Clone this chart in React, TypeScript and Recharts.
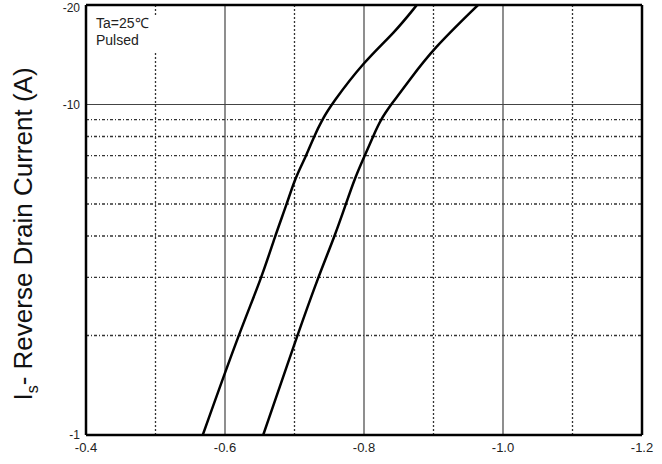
import React from 'react';
import { LineChart, Line, XAxis, YAxis, ReferenceLine } from 'recharts';

// Source-drain diode forward voltage (V) vs reverse drain current (A)
const voltsLeft = [-0.568, -0.619, -0.653, -0.672, -0.689, -0.701, -0.717, -0.728, -0.74, -0.753, -0.8, -0.844, -0.876];
const ampsLeft = [-1, -2, -3, -4, -5, -6, -7, -8, -9, -10, -13.5, -16.5, -20];
const voltsRight = [-0.655, -0.704, -0.734, -0.758, -0.774, -0.787, -0.801, -0.813, -0.824, -0.839, -0.866, -0.899, -0.964];
const ampsRight = [-1, -2, -3, -4, -5, -6, -7, -8, -9, -10, -11.9, -14.7, -20];

const xTicks = [-0.4, -0.6, -0.8, -1.0, -1.2];
const xMinor = [-0.5, -0.7, -0.9, -1.1];
const xMajor = [-0.6, -0.8, -1.0];
const yTicks = [-1, -10, -20];
const yMinor = [-2, -3, -4, -5, -6, -7, -8, -9];

const toPoints = (v: number[], a: number[]) => v.map((x, i) => ({ v: x, i: Math.abs(a[i]) }));
const leftCurve = toPoints(voltsLeft, ampsLeft);
const rightCurve = toPoints(voltsRight, ampsRight);

const FONT = '"Liberation Sans", Arial, sans-serif';

const App: React.FC = () => {
  return (
    <div style={{ position: 'absolute', left: 0, top: 0, width: 662, height: 464, background: '#fff', fontFamily: FONT }}>
      <LineChart width={662} height={464} margin={{ top: 5, right: 20, bottom: 5, left: 0 }}>
        <XAxis
          type="number"
          dataKey="v"
          domain={[-1.2, -0.4]}
          reversed
          ticks={xTicks}
          tickFormatter={(t: number) => t.toFixed(1)}
          tick={{ fill: '#222', fontSize: 13, fontFamily: FONT }}
          tickLine={false}
          axisLine={{ stroke: '#000', strokeWidth: 2.5 }}
          height={24}
          allowDataOverflow
        />
        <YAxis
          type="number"
          dataKey="i"
          scale="log"
          domain={[1, 20]}
          ticks={yTicks.map(Math.abs)}
          tickFormatter={(t: number) => `-${t}`}
          tick={{ fill: '#222', fontSize: 12, fontFamily: FONT }}
          tickLine={false}
          tickSize={4}
          axisLine={{ stroke: '#000', strokeWidth: 2.5 }}
          width={86}
          allowDataOverflow
        />

        {xMinor.map(x => (
          <ReferenceLine key={`xm${x}`} x={x} stroke="#333" strokeWidth={1.3} strokeDasharray="2 2" />
        ))}
        {yMinor.map(y => (
          <ReferenceLine key={`ym${y}`} y={Math.abs(y)} stroke="#333" strokeWidth={1.3} strokeDasharray="3 2 1 2" />
        ))}
        {xMajor.map(x => (
          <ReferenceLine key={`xM${x}`} x={x} stroke="#444" strokeWidth={1.2} />
        ))}
        <ReferenceLine y={10} stroke="#444" strokeWidth={1.2} />
        <ReferenceLine y={20} stroke="#000" strokeWidth={2.5} />
        <ReferenceLine x={-1.2} stroke="#000" strokeWidth={2.5} />

        <Line data={leftCurve} dataKey="i" type="basis" stroke="#000" strokeWidth={2.5} dot={false} isAnimationActive={false} />
        <Line data={rightCurve} dataKey="i" type="basis" stroke="#000" strokeWidth={2.5} dot={false} isAnimationActive={false} />
      </LineChart>

      {/* condition note, covers the dotted gridline behind it */}
      <div style={{ position: 'absolute', left: 90, top: 15, width: 70, padding: '0 0 4px 6px', background: '#fff', fontSize: 14, lineHeight: '17px', color: '#222' }}>
        Ta=25℃<br />Pulsed
      </div>

      {/* y axis title */}
      <div
        style={{
          position: 'absolute',
          left: 25,
          top: 234,
          transform: 'translate(-50%, -50%) rotate(-90deg)',
          whiteSpace: 'nowrap',
          fontSize: 26,
          color: '#111',
        }}
      >
        I<sub style={{ fontSize: 16 }}>s</sub>- Reverse Drain Current (A)
      </div>
    </div>
  );
};

export default App;
